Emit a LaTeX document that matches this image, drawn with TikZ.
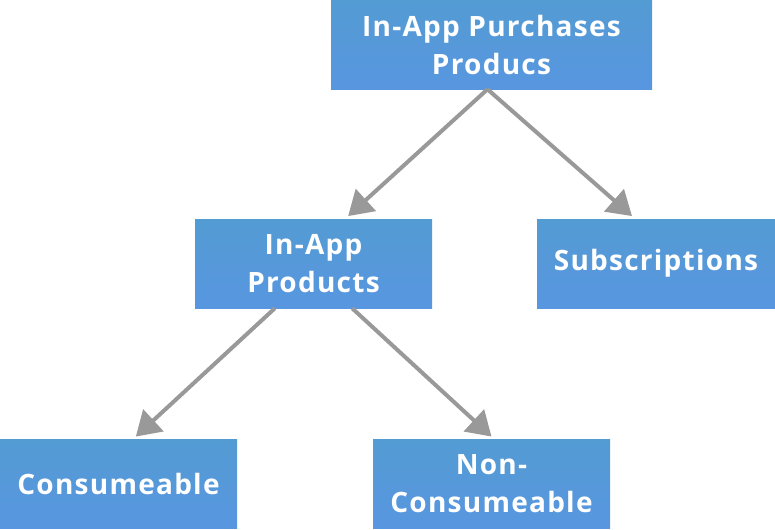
\documentclass[tikz,border=0pt]{standalone}
\usepackage{fontspec}
\setmainfont{Open Sans}
\newfontfamily\boxfont[LetterSpace=4.5]{Open Sans}
\usetikzlibrary{arrows.meta}
\definecolor{boxtop}{RGB}{83,155,211}
\definecolor{boxbot}{RGB}{88,150,224}
\definecolor{arrowgray}{RGB}{153,153,153}
\tikzset{
	prodbox/.style={top color=boxtop,bottom color=boxbot,draw=none,
		text=white,font=\boxfont\fontsize{21}{28.5}\selectfont\bfseries,align=center,
		inner sep=0pt,minimum width=#1*0.75pt,minimum height=89*0.75pt},
	prodarrow/.style={draw=arrowgray,line width=3pt,
		-{Triangle[length=18pt,width=22pt]}}
}
\begin{document}
\begin{tikzpicture}[x=0.75pt,y=-0.75pt]
	\useasboundingbox (0,0) rectangle (775,529);
	\node[prodbox=321] (iap) at (491.5,44.5) {In-App Purchases\\Producs};
	\node[prodbox=237] (inapp) at (313.5,263.5) {In-App\\Products};
	\node[prodbox=238] (subs) at (656,263.5) {Subscriptions};
	\node[prodbox=237] (cons) at (118.5,484) {Consumeable};
	\node[prodbox=237] (noncons) at (491.5,484) {Non-\\Consumeable};
	\draw[prodarrow] ([xshift=-3pt]iap.south) -- ([xshift=26pt,yshift=2pt]inapp.north);
	\draw[prodarrow] ([xshift=-3pt]iap.south) -- ([xshift=-18pt,yshift=2pt]subs.north);
	\draw[prodarrow] ([xshift=-29pt]inapp.south) -- ([xshift=13pt,yshift=2pt]cons.north);
	\draw[prodarrow] ([xshift=29pt]inapp.south) -- ([yshift=2pt]noncons.north);
\end{tikzpicture}
\end{document}
